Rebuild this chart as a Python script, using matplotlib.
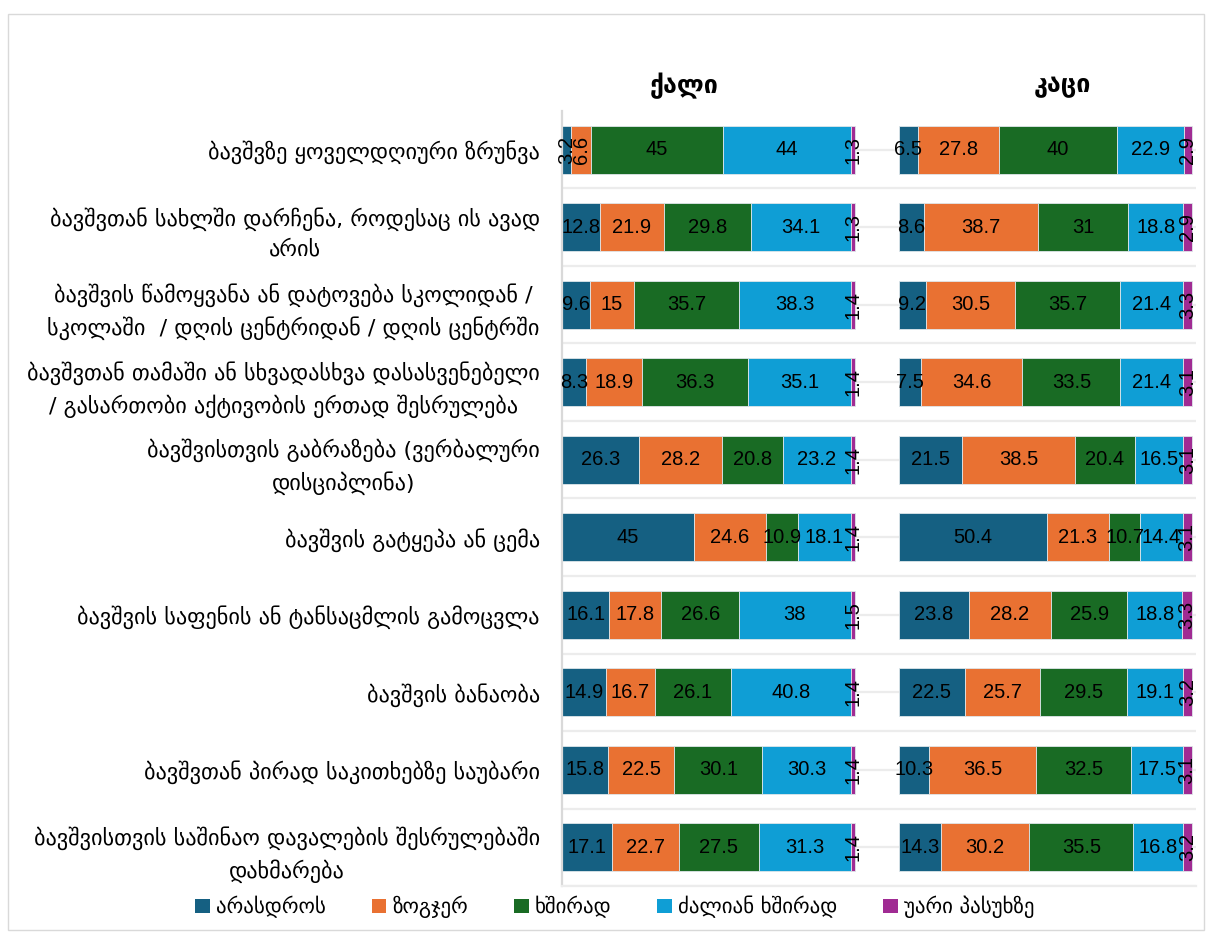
import matplotlib
matplotlib.use("Agg")
import matplotlib.pyplot as plt
from matplotlib.patches import Rectangle, Patch
import numpy as np

categories = [
    "ბავშვზე ყოველდღიური ზრუნვა",
    "ბავშვთან სახლში დარჩენა, როდესაც ის ავად\nარის",
    "ბავშვის წამოყვანა ან დატოვება სკოლიდან /\nსკოლაში  / დღის ცენტრიდან / დღის ცენტრში",
    "ბავშვთან თამაში ან სხვადასხვა დასასვენებელი\n/ გასართობი აქტივობის ერთად შესრულება",
    "ბავშვისთვის გაბრაზება (ვერბალური\nდისციპლინა)",
    "ბავშვის გატყეპა ან ცემა",
    "ბავშვის საფენის ან ტანსაცმლის გამოცვლა",
    "ბავშვის ბანაობა",
    "ბავშვთან პირად საკითხებზე საუბარი",
    "ბავშვისთვის საშინაო დავალების შესრულებაში\nდახმარება",
]
series_names = ["არასდროს", "ზოგჯერ", "ხშირად", "ძალიან ხშირად", "უარი პასუხზე"]
panel_titles = ["ქალი", "კაცი"]

women_never = [3.2, 12.8, 9.6, 8.3, 26.3, 45, 16.1, 14.9, 15.8, 17.1]
women_sometimes = [6.6, 21.9, 15, 18.9, 28.2, 24.6, 17.8, 16.7, 22.5, 22.7]
women_often = [45, 29.8, 35.7, 36.3, 20.8, 10.9, 26.6, 26.1, 30.1, 27.5]
women_very_often = [44, 34.1, 38.3, 35.1, 23.2, 18.1, 38, 40.8, 30.3, 31.3]
women_refused = [1.3, 1.3, 1.4, 1.4, 1.4, 1.4, 1.5, 1.4, 1.4, 1.4]

men_never = [6.5, 8.6, 9.2, 7.5, 21.5, 50.4, 23.8, 22.5, 10.3, 14.3]
men_sometimes = [27.8, 38.7, 30.5, 34.6, 38.5, 21.3, 28.2, 25.7, 36.5, 30.2]
men_often = [40, 31, 35.7, 33.5, 20.4, 10.7, 25.9, 29.5, 32.5, 35.5]
men_very_often = [22.9, 18.8, 21.4, 21.4, 16.5, 14.4, 18.8, 19.1, 17.5, 16.8]
men_refused = [2.9, 2.9, 3.3, 3.1, 3.1, 3.1, 3.3, 3.2, 3.1, 3.2]

colors = ["#156082", "#E97132", "#196B24", "#0F9ED5", "#A02B93"]

W, H = 1211, 938
fig = plt.figure(figsize=(W / 100, H / 100), dpi=100)

# outer chart border
fig.patches.append(Rectangle((8 / W, 1 - 930 / H), (1204 - 8) / W, (930 - 14) / H,
                             transform=fig.transFigure, fill=False,
                             edgecolor="#d9d9d9", linewidth=1.0))

ax_l, ax_r, ax_t, ax_b = 562, 1196, 111, 886
ax = fig.add_axes([ax_l / W, 1 - ax_b / H, (ax_r - ax_l) / W, (ax_b - ax_t) / H])

offset = 115.0
xmax = (ax_r - ax_l) / 2.93
ax.set_xlim(0, xmax)
n = len(categories)
ax.set_ylim(n - 0.5, -0.5)
y = np.arange(n)

# gridlines
for g in np.arange(0, n, 0.5):
    ax.axhline(g, color="#ececec", linewidth=1.6, zorder=0)

panels = [
    [women_never, women_sometimes, women_often, women_very_often, women_refused],
    [men_never, men_sometimes, men_often, men_very_often, men_refused],
]

for p, data in enumerate(panels):
    left = np.full(n, offset * p)
    for s, vals in enumerate(data):
        vals = np.array(vals, dtype=float)
        ax.barh(y, vals, left=left, height=0.62, color=colors[s],
                edgecolor="#dfe6ea", linewidth=0.6, zorder=2,
                label=series_names[s] if p == 0 else None)
        for i in range(n):
            v = vals[i]
            cx = left[i] + v / 2
            rot = 90 if (s == 4 or (p == 0 and i == 0 and s < 2)) else 0
            txt = f"{v:g}"
            ax.text(cx, y[i], txt, ha="center", va="center", rotation=rot,
                    fontsize=14.5, family="Liberation Sans", color="black", zorder=3)
        left = left + vals

ax.set_yticks(y)
ax.set_yticklabels(categories, fontsize=16, family="DejaVu Sans", linespacing=1.5)
for t in ax.get_yticklabels():
    t.set_multialignment("center")
ax.tick_params(axis="y", length=0, pad=16)
ax.set_xticks([])
for side in ["top", "right"]:
    ax.spines[side].set_visible(False)
ax.spines["left"].set_color("#d9d9d9")
ax.spines["left"].set_linewidth(1.6)
ax.spines["bottom"].set_color("#ececec")
ax.spines["bottom"].set_linewidth(1.6)

# panel titles
fig.text(684 / W, 1 - 86 / H, panel_titles[0], ha="center", va="center",
         fontsize=18, fontweight="bold", family="DejaVu Sans")
fig.text(1062 / W, 1 - 86 / H, panel_titles[1], ha="center", va="center",
         fontsize=18, fontweight="bold", family="DejaVu Sans")

handles = [Patch(facecolor=c, edgecolor="none") for c in colors]
fig.legend(handles, series_names, loc="center", bbox_to_anchor=(615 / W, 1 - 907 / H),
           ncol=5, frameon=False, handlelength=0.7, handleheight=0.7,
           handletextpad=0.3, columnspacing=2.2, prop={"family": "DejaVu Sans", "size": 15})

fig.savefig("out.png", dpi=100)
